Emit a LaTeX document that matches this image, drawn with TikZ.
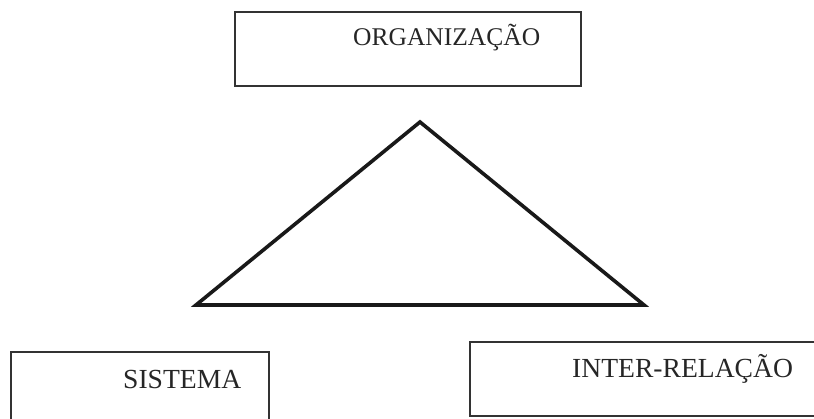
\documentclass[tikz,border=0pt]{standalone}
\usepackage{fontspec}
\setmainfont{Liberation Serif}
\begin{document}
\begin{tikzpicture}[x=1pt,y=-1pt,
  frame/.style={draw=black!80,line width=1.4pt,inner sep=0pt,rectangle},
  label/.style={anchor=base west,inner sep=0pt,text=black!85},
  tri/.style={draw=black!90,line width=3.6pt,line join=miter}]
\useasboundingbox (0,0) rectangle (814,418);
% boxes
\node[frame,minimum width=346pt,minimum height=74pt] (org) at (408,49) {};
\node[frame,minimum width=258pt,minimum height=80pt] (sis) at (140,392) {};
\node[frame,minimum width=352pt,minimum height=74pt] (int) at (646,379) {};
% texts
\node[label,font=\fontsize{25.5}{30}\selectfont] (torg) at (353,45) {ORGANIZAÇÃO};
\node[label,font=\fontsize{27.6}{32}\selectfont] (tsis) at (123,388) {SISTEMA};
\node[label,font=\fontsize{27.6}{32}\selectfont] (tint) at (572,377) {INTER-RELAÇÃO};
% triangle
\coordinate (apex) at (420,122);
\coordinate (bl) at (196,305);
\coordinate (br) at (644,305);
\draw[tri] (apex) -- (br) -- (bl) -- cycle;
\end{tikzpicture}
\end{document}
